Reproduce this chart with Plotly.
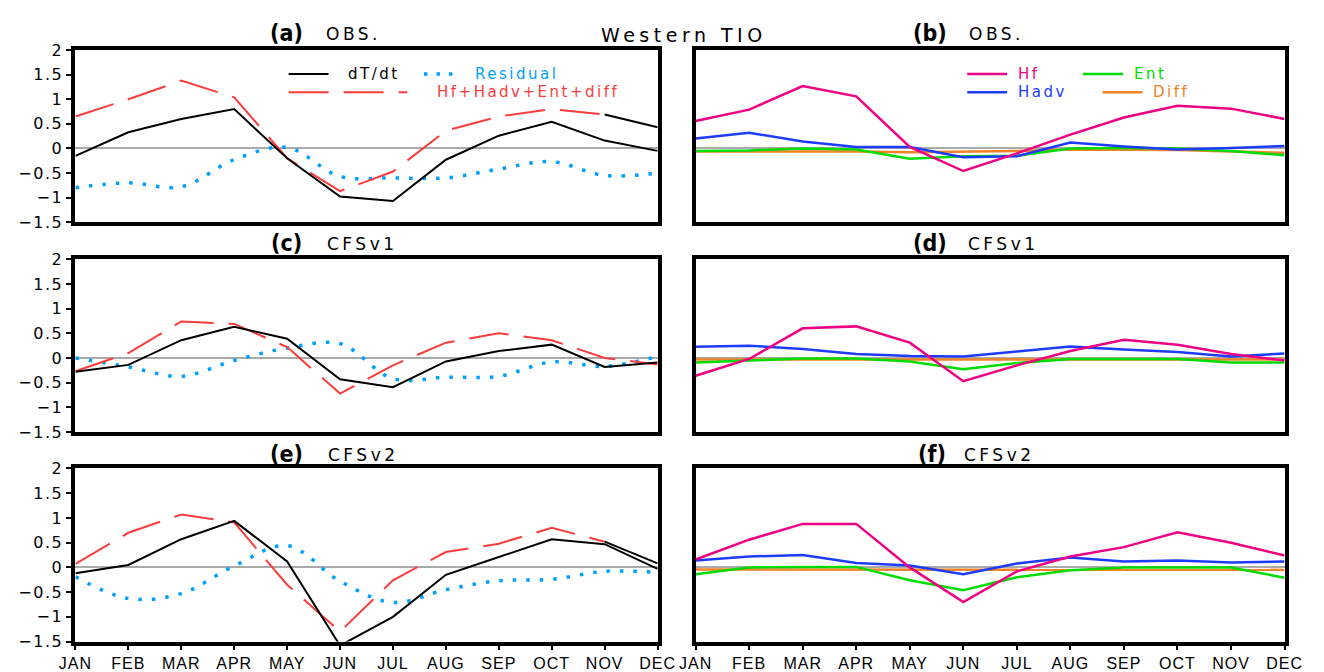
import plotly.graph_objects as go

months = ["JAN", "FEB", "MAR", "APR", "MAY", "JUN", "JUL", "AUG", "SEP", "OCT", "NOV", "DEC"]
yticks = [-1.5, -1, -0.5, 0, 0.5, 1, 1.5, 2]
ytick_labels = ["−1.5", "−1", "−0.5", "0", "0.5", "1", "1.5", "2"]

# ---- OBS ----
obs_dTdt = [-0.15, 0.33, 0.60, 0.80, -0.20, -0.98, -1.07, -0.23, 0.26, 0.54, 0.16, -0.05]
obs_sum = [0.65, 1.00, 1.38, 1.04, -0.20, -0.87, -0.47, 0.36, 0.65, 0.80, 0.69, 0.43]
obs_resid = [-0.80, -0.70, -0.78, -0.23, 0.02, -0.57, -0.60, -0.60, -0.42, -0.27, -0.55, -0.50]
obs_hf = [0.56, 0.79, 1.27, 1.06, 0.03, -0.46, -0.10, 0.28, 0.63, 0.87, 0.81, 0.60]
obs_hadv = [0.20, 0.32, 0.14, 0.03, 0.03, -0.18, -0.16, 0.12, 0.04, -0.02, 0.01, 0.05]
obs_ent = [-0.05, -0.04, 0.00, -0.02, -0.21, -0.16, -0.15, 0.00, 0.01, 0.00, -0.05, -0.14]
obs_diff = [-0.06, -0.06, -0.05, -0.06, -0.08, -0.07, -0.05, -0.02, -0.02, -0.03, -0.06, -0.09]

# ---- CFSv1 ----
cfs1_dTdt = [-0.28, -0.14, 0.36, 0.63, 0.39, -0.43, -0.59, -0.07, 0.14, 0.27, -0.18, -0.09]
cfs1_sum = [-0.27, 0.10, 0.74, 0.69, 0.22, -0.72, -0.15, 0.31, 0.50, 0.36, 0.00, -0.13]
cfs1_resid = [0.00, -0.18, -0.37, -0.05, 0.20, 0.29, -0.42, -0.39, -0.37, -0.08, -0.17, 0.03]
cfs1_hf = [-0.36, -0.02, 0.60, 0.64, 0.31, -0.47, -0.15, 0.14, 0.37, 0.27, 0.08, -0.05]
cfs1_hadv = [0.23, 0.25, 0.18, 0.08, 0.04, 0.03, 0.13, 0.23, 0.17, 0.12, 0.03, 0.09]
cfs1_ent = [-0.09, -0.05, -0.01, -0.01, -0.07, -0.23, -0.10, -0.02, -0.02, -0.02, -0.09, -0.09]
cfs1_diff = [-0.03, -0.03, -0.02, -0.02, -0.02, -0.02, -0.02, -0.02, -0.02, -0.02, -0.03, -0.03]

# ---- CFSv2 ----
cfs2_dTdt = [-0.12, 0.05, 0.57, 0.94, 0.12, -1.58, -1.00, -0.15, 0.21, 0.57, 0.47, -0.03]
cfs2_sum = [0.07, 0.70, 1.07, 0.91, -0.35, -1.30, -0.26, 0.31, 0.48, 0.80, 0.52, 0.08]
cfs2_resid = [-0.19, -0.63, -0.53, 0.03, 0.44, -0.28, -0.71, -0.45, -0.27, -0.24, -0.08, -0.10]
cfs2_hf = [0.16, 0.56, 0.88, 0.88, 0.00, -0.70, -0.08, 0.22, 0.41, 0.71, 0.50, 0.24]
cfs2_hadv = [0.14, 0.22, 0.25, 0.09, 0.04, -0.14, 0.08, 0.20, 0.12, 0.14, 0.10, 0.12]
cfs2_ent = [-0.14, 0.00, 0.01, 0.01, -0.26, -0.46, -0.20, -0.06, 0.00, 0.00, 0.00, -0.21]
cfs2_diff = [-0.04, -0.04, -0.04, -0.05, -0.05, -0.05, -0.04, -0.04, -0.04, -0.04, -0.05, -0.05]

# colors (GrADS palette)
C_BLACK = "rgb(0,0,0)"
C_RED = "rgb(250,60,60)"
C_RES = "rgb(0,160,255)"
C_HF = "rgb(240,0,130)"
C_HADV = "rgb(30,60,255)"
C_ENT = "rgb(0,220,0)"
C_DIFF = "rgb(240,130,40)"
C_ZERO = "rgb(170,170,170)"

W, H = 1324, 672
x = list(range(12))


def sp(t, s=2):
    return '<span style="letter-spacing:%spx">%s</span>' % (s, t)


left_panels = [
    ("", obs_dTdt, obs_sum, obs_resid, True),
    ("3", cfs1_dTdt, cfs1_sum, cfs1_resid, False),
    ("5", cfs2_dTdt, cfs2_sum, cfs2_resid, True),
]
right_panels = [
    ("2", obs_hf, obs_hadv, obs_ent, obs_diff),
    ("4", cfs1_hf, cfs1_hadv, cfs1_ent, cfs1_diff),
    ("6", cfs2_hf, cfs2_hadv, cfs2_ent, cfs2_diff),
]

fig = go.Figure()

for sfx, dT, sm, rs, black_tail in left_panels:
    xa, ya = "x" + sfx, "y" + sfx
    fig.add_trace(go.Scatter(x=x, y=rs, xaxis=xa, yaxis=ya, mode="lines",
                             line=dict(color=C_RES, width=3.5, dash="3.5px,10px", shape="spline", smoothing=1.0),
                             showlegend=False))
    sm_x = x[:-1] if black_tail else x
    sm_y = sm[:-1] if black_tail else sm
    fig.add_trace(go.Scatter(x=sm_x, y=sm_y, xaxis=xa, yaxis=ya, mode="lines",
                             line=dict(color=C_RED, width=2, dash="40px,15px"), showlegend=False))
    if black_tail:
        fig.add_trace(go.Scatter(x=x[-2:], y=sm[-2:], xaxis=xa, yaxis=ya, mode="lines",
                                 line=dict(color=C_BLACK, width=2), showlegend=False))
    fig.add_trace(go.Scatter(x=x, y=dT, xaxis=xa, yaxis=ya, mode="lines",
                             line=dict(color=C_BLACK, width=2), showlegend=False))

for sfx, hf, hadv, ent, dif in right_panels:
    xa, ya = "x" + sfx, "y" + sfx
    for arr, col in [(dif, C_DIFF), (ent, C_ENT), (hadv, C_HADV), (hf, C_HF)]:
        fig.add_trace(go.Scatter(x=x, y=arr, xaxis=xa, yaxis=ya, mode="lines",
                                 line=dict(color=col, width=2.5), showlegend=False))


def px(v):
    return v / W


def py(v):
    return 1 - v / H


xdom_left = [px(60), px(658)]
xdom_right = [px(697), px(1302)]
ydoms = [[py(220), py(42.5)], [py(436.7), py(258.3)], [py(653), py(474.3)]]

tick_font = dict(family="DejaVu Sans, Verdana, sans-serif", size=16, color="black")
layout = dict(width=W, height=H, margin=dict(l=0, r=0, t=0, b=0),
              paper_bgcolor="white", plot_bgcolor="white",
              font=dict(family="DejaVu Sans, sans-serif", size=14, color="black"), showlegend=False)

axis_names = [("", 0, 0), ("2", 1, 0), ("3", 0, 1), ("4", 1, 1), ("5", 0, 2), ("6", 1, 2)]
for sfx, col, row in axis_names:
    bottom = row == 2
    left = col == 0
    layout["xaxis" + sfx] = dict(domain=xdom_left if left else xdom_right, anchor="y" + sfx,
                                 range=[0, 11], showgrid=False, zeroline=False,
                                 showline=True, mirror=True, linecolor="black", linewidth=4,
                                 tickmode="array", tickvals=x, ticktext=[sp(m, 1) for m in months],
                                 showticklabels=bottom, ticks="outside" if bottom else "",
                                 ticklen=4, tickwidth=2, tickcolor="black",
                                 tickfont=dict(family="Liberation Sans, Arial, sans-serif", size=16))
    layout["yaxis" + sfx] = dict(domain=ydoms[row], anchor="x" + sfx, range=[-1.5, 2],
                                 showgrid=False, zeroline=True, zerolinecolor=C_ZERO, zerolinewidth=1.5,
                                 showline=True, mirror=True, linecolor="black", linewidth=4,
                                 tickmode="array", tickvals=yticks,
                                 ticktext=[sp(t, 1.5) for t in ytick_labels],
                                 showticklabels=left, ticks="outside" if left else "",
                                 ticklen=5, tickwidth=2, tickcolor="black", tickfont=tick_font)

fig.update_layout(**layout)

# ---- titles ----
bold_font = dict(family="Liberation Sans Narrow, DejaVu Sans Condensed, Liberation Sans", size=23, color="black")
wide_font = dict(family="DejaVu Sans, Verdana, sans-serif", size=17, color="black")

annos = []
titles = [
    ("(a)", "OBS.", 258, 315, 25),
    ("(b)", "OBS.", 918, 976, 25),
    ("(c)", "CFSv1", 259, 316, 242),
    ("(d)", "CFSv1", 918, 975, 242),
    ("(e)", "CFSv2", 258, 317, 459),
    ("(f)", "CFSv2", 923, 971, 459),
]
for lab, name, xl, xn, yy in titles:
    annos.append(dict(text="<b>%s</b>" % lab, x=px(xl), y=py(yy), xref="paper", yref="paper",
                      xanchor="left", yanchor="middle", showarrow=False, font=bold_font))
    annos.append(dict(text=sp(name, 3.5), x=px(xn), y=py(yy + 1), xref="paper", yref="paper",
                      xanchor="left", yanchor="middle", showarrow=False, font=wide_font))
annos.append(dict(text=sp("Western TIO", 4.5), x=px(598), y=py(27), xref="paper", yref="paper",
                  xanchor="left", yanchor="middle", showarrow=False,
                  font=dict(family="DejaVu Sans, Verdana, sans-serif", size=19, color="black")))

# ---- legends (drawn keys) ----
leg_font = dict(family="DejaVu Sans, Verdana, sans-serif", size=15)
shapes = []
leg_items = [
    (279, 320, 67, C_BLACK, "solid", "dT/dt", 338, 2),
    (418, 452, 67, C_RES, "3.5px,9px", "Residual", 468, 3.5),
    (279, 401, 86, C_RED, "40px,15px", "Hf+Hadv+Ent+diff", 429, 2),
    (976, 1017, 67, C_HF, "solid", "Hf", 1026, 2.5),
    (1095, 1136, 67, C_ENT, "solid", "Ent", 1145, 2.5),
    (976, 1017, 86, C_HADV, "solid", "Hadv", 1026, 2.5),
    (1115, 1156, 86, C_DIFF, "solid", "Diff", 1165, 2.5),
]
for x0, x1, yy, col, dash, txt, tx, lw in leg_items:
    shapes.append(dict(type="line", xref="paper", yref="paper", x0=px(x0), x1=px(x1),
                       y0=py(yy), y1=py(yy), line=dict(color=col, width=lw, dash=dash)))
    f = dict(leg_font)
    f["color"] = col
    annos.append(dict(text=sp(txt, 2.5), x=px(tx), y=py(yy), xref="paper", yref="paper",
                      xanchor="left", yanchor="middle", showarrow=False, font=f))

fig.update_layout(annotations=annos, shapes=shapes)
fig.write_html("out.html")
